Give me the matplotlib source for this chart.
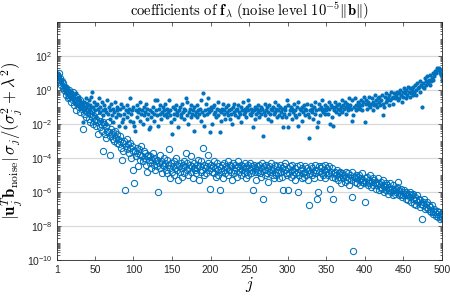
import numpy as np
import matplotlib
matplotlib.use("Agg")
import matplotlib.pyplot as plt
from matplotlib.ticker import LogLocator, NullFormatter, FixedLocator

plt.rcParams['mathtext.fontset'] = 'cm'
plt.rcParams['font.family'] = ['Liberation Sans', 'DejaVu Sans']

# log10 of the filled-dot coefficients, j = 1..500
dots_log = [
    0.9, 1.0, 0.8, 0.7, 0.6, 0.4, 0.5, 0.2, 0.3, 0.0,
    0.1, -0.2, 0.2, -0.1, -0.3, 0.0, -0.4, -0.2, -0.5, -0.1,
    -0.6, -0.3, -0.4, -0.8, -0.2, -0.7, -0.5, -0.9, -0.4, -1.0,
    -0.6, -0.8, -1.1, -1.9, -0.9, -0.7, -1.2, -0.5, -1.0, -0.8,
    -1.3, -0.6, -1.1, -0.9, -0.4, -0.1, -1.0, -1.4, -0.7, -1.2,
    -0.9, -1.6, -0.8, -1.1, -0.5, -1.3, -1.0, -1.8, -0.7, -1.2,
    -1.5, -0.9, -1.1, -2.0, -1.3, -0.6, -1.4, -1.0, -1.7, -1.2,
    -0.8, -1.5, -1.1, -1.9, -1.3, -0.7, -1.6, -1.2, -1.0, -1.4,
    -2.1, -1.1, -1.5, -0.8, -1.9, -1.7, -1.0, -1.4, -2.2, -1.2,
    -0.9, -1.6, -1.3, -1.1, -1.8, -0.5, -1.4, -1.2, -1.9, -1.0,
    -2.1, -2.4, -1.2, -0.9, -1.6, -1.3, -1.1, -1.8, -0.7, -1.4,
    -1.2, -2.0, -1.0, -1.5, -1.3, -0.8, -1.7, -1.1, -1.4, -2.3,
    -1.2, -2.2, -1.6, -1.3, -1.0, -1.8, -1.4, -0.6, -1.2, -0.6,
    -1.5, -2.1, -1.1, -1.4, -0.9, -1.7, -1.3, -1.0, -1.2, -1.5,
    -0.8, -1.4, -1.1, -1.6, -1.3, -0.6, -1.5, -1.2, -1.9, -2.6,
    -1.0, -1.4, -1.7, -1.1, -0.9, -1.5, -1.3, -2.2, -1.2, -1.0,
    -1.6, -1.4, -0.8, -1.3, -1.1, -1.7, -1.2, -0.5, -1.5, -0.7,
    -2.0, -1.3, -1.1, -1.6, -0.9, -1.4, -1.2, -2.4, -1.0, -1.5,
    -1.3, -0.9, -1.6, -1.2, -1.4, -1.1, -1.8, -0.6, -1.3, -0.2,
    -1.5, -2.1, -1.2, -0.8, -1.4, -1.1, -0.5, -1.3, -2.5, -1.0,
    -1.2, -2.0, -1.0, -1.4, -0.9, -1.3, -1.6, -1.1, -0.7, -1.5,
    -1.2, -2.5, -1.8, -1.3, -1.1, -0.8, -1.4, -1.2, -1.7, -1.0,
    -1.3, -1.5, -0.9, -1.2, -1.7, -1.1, -1.4, -2.0, -1.0, -1.3,
    -0.8, -1.5, -1.2, -1.1, -1.6, -0.9, -1.3, -1.4, -1.0, -1.9,
    -1.2, -0.7, -1.4, -1.1, -1.3, -1.6, -1.0, -1.2, -0.6, -0.9,
    -1.4, -1.1, -1.5, -1.3, -2.2, -1.2, -1.7, -1.0, -1.4, -1.1,
    -1.3, -0.9, -1.6, -1.2, -1.0, -1.4, -1.1, -2.7, -1.3, -0.8,
    -1.5, -1.2, -1.0, -1.7, -1.3, -0.9, -1.4, -1.1, -1.8, -1.2,
    -1.0, -1.4, -0.7, -1.3, -1.1, -1.6, -1.2, -0.9, -1.5, -1.0,
    -1.3, -1.6, -1.1, -2.2, -1.4, -1.2, -1.0, -1.6, -0.6, -2.2,
    -0.9, -1.4, -1.2, -1.0, -1.7, -1.1, -1.3, -0.8, -1.5, -1.2,
    -1.6, -1.0, -2.1, -0.7, -1.4, -1.1, -1.2, -1.8, -1.0, -1.3,
    -0.9, -1.5, -1.1, -1.2, -0.8, -1.4, -2.8, -1.6, -1.2, -0.9,
    -1.3, -1.1, -1.7, -1.0, -0.7, -1.4, -1.2, -2.2, -1.9, -1.1,
    -0.8, -1.5, -1.0, -1.2, -0.6, -1.3, -1.1, -0.9, -1.4, -1.2,
    -1.0, -1.4, -0.7, -1.1, -2.0, -0.9, -1.6, -1.0, -2.1, -1.2,
    -1.0, -0.7, -1.3, -0.9, -1.1, -1.4, -0.8, -1.2, -1.0, -0.6,
    -1.3, -0.9, -1.1, -0.7, -1.4, -1.0, -0.8, -1.2, -0.5, -1.0,
    -0.9, -1.1, -0.6, -1.8, -1.5, -1.0, -0.5, -1.2, -0.9, -1.1,
    -0.7, -1.0, -0.8, -1.1, -0.6, -0.9, -1.2, -0.7, -0.4, -1.9,
    -0.8, -0.6, -1.1, -0.7, -0.9, -0.4, -1.0, -0.8, -0.5, -1.2,
    -0.7, -0.9, -0.3, -0.8, -0.6, -1.0, -0.5, -0.7, -0.4, -0.9,
    -0.6, -0.3, -0.8, -1.5, -1.0, -0.4, -0.7, -0.2, -0.6, -0.5,
    -0.9, -0.3, -0.6, -0.1, -0.5, -0.4, -0.8, -0.2, -0.5, -0.3,
    -0.4, -0.1, -0.6, -0.2, -0.5, 0.0, -0.3, -0.7, -0.1, -0.4,
    0.1, -0.2, -0.5, 0.0, -0.3, 0.2, -0.1, -0.4, 0.1, -0.2,
    0.0, -0.3, 0.2, -0.1, 0.3, 0.0, -0.3, 0.4, 0.1, 0.2,
    0.5, -0.1, 0.3, -1.0, 0.2, 0.4, 0.1, 0.7, 0.3, 0.5,
    0.8, 0.4, 0.6, 0.3, 0.9, 0.5, 0.7, 1.0, 0.6, 0.8,
    1.1, 1.0, 1.2, 1.3, 1.2, 1.3, 1.2, 1.0, 0.9, 0.6,
]

# log10 of the open-circle coefficients, j = 1..500
circles_log = [
    0.9, 0.8, 1.0, 0.6, 0.7, 0.3, 0.5, 0.1, 0.4, 0.0,
    0.2, -0.3, 0.1, -0.1, -0.5, 0.0, -0.4, -0.2, -0.7, -0.3,
    -0.6, -0.1, -0.9, -0.5, -0.7, -1.2, -0.4, -0.8, -1.0, -0.6,
    -1.3, -0.9, -1.1, -2.3, -0.8, -1.4, -1.2, -0.9, -1.6, -1.3,
    -1.1, -1.7, -1.4, -1.9, -1.2, -1.6, -2.0, -1.5, -1.8, -1.3,
    -2.1, -1.7, -1.9, -2.6, -1.6, -2.2, -1.8, -2.0, -2.4, -1.9,
    -3.6, -2.0, -2.6, -2.1, -2.8, -2.4, -1.9, -2.5, -2.7, -3.8,
    -2.3, -2.6, -2.9, -2.5, -3.0, -2.4, -2.8, -3.1, -2.6, -2.9,
    -3.2, -2.7, -3.0, -3.4, -4.1, -3.1, -3.6, -3.0, -5.9, -3.3,
    -2.9, -3.5, -3.2, -3.7, -3.1, -3.4, -4.0, -3.3, -3.6, -4.7,
    -5.5, -3.6, -3.9, -3.4, -3.7, -4.5, -3.5, -4.1, -3.8, -3.3,
    -3.9, -4.2, -3.6, -4.0, -3.7, -4.4, -3.9, -4.8, -3.8, -4.1,
    -4.3, -3.9, -4.6, -4.1, -3.7, -4.4, -4.0, -4.7, -4.2, -4.5,
    -4.1, -6.0, -4.3, -3.8, -4.6, -4.2, -4.9, -4.4, -4.0, -4.5,
    -4.3, -4.7, -4.1, -4.9, -4.4, -3.5, -4.6, -5.2, -4.3, -4.8,
    -4.5, -4.2, -5.0, -4.6, -4.0, -4.7, -4.4, -5.3, -4.5, -4.8,
    -4.3, -4.6, -5.1, -4.4, -4.2, -4.9, -4.5, -3.7, -4.7, -4.3,
    -5.0, -4.6, -4.4, -4.8, -3.9, -4.5, -5.2, -4.6, -4.3, -4.7,
    -4.9, -4.4, -4.6, -4.1, -5.3, -4.5, -4.8, -4.2, -4.7, -3.4,
    -4.4, -5.0, -4.6, -4.9, -4.5, -3.8, -4.3, -4.7, -5.8, -4.6,
    -4.4, -4.8, -4.5, -4.2, -4.9, -4.6, -5.1, -4.3, -4.7, -5.0,
    -4.5, -5.9, -4.8, -4.6, -4.4, -5.2, -4.7, -4.3, -4.9, -4.5,
    -4.6, -4.2, -5.0, -4.7, -4.4, -4.8, -4.5, -5.3, -4.3, -4.7,
    -4.9, -4.4, -4.6, -5.1, -4.5, -4.2, -4.8, -4.6, -5.0, -4.4,
    -4.7, -4.5, -4.9, -4.3, -4.6, -5.2, -4.8, -4.4, -5.0, -4.6,
    -4.3, -4.9, -4.7, -4.5, -5.9, -4.4, -4.8, -4.6, -5.3, -4.5,
    -4.8, -4.7, -4.4, -4.9, -4.6, -5.1, -4.3, -6.4, -4.5, -5.0,
    -4.7, -4.4, -4.9, -4.6, -5.4, -4.5, -4.8, -4.3, -4.7, -5.0,
    -4.6, -5.2, -4.4, -4.8, -5.0, -4.5, -4.9, -4.7, -5.2, -4.4,
    -4.8, -4.6, -5.1, -5.9, -4.5, -4.7, -4.3, -4.9, -5.0, -5.9,
    -4.6, -4.9, -4.5, -5.1, -4.7, -4.4, -5.0, -4.8, -5.3, -4.6,
    -4.9, -4.5, -6.0, -4.8, -5.0, -4.4, -4.7, -5.2, -4.6, -4.9,
    -5.1, -4.5, -4.8, -5.0, -4.6, -5.3, -6.8, -4.7, -4.9, -4.5,
    -5.0, -4.6, -4.8, -5.2, -4.4, -4.9, -4.7, -6.4, -6.0, -4.5,
    -4.8, -5.1, -4.6, -4.9, -4.5, -5.0, -4.7, -4.4, -5.2, -4.8,
    -4.6, -5.0, -4.9, -4.5, -5.8, -4.8, -5.1, -4.6, -6.4, -4.9,
    -5.2, -4.8, -5.0, -4.7, -5.3, -4.9, -5.1, -4.8, -5.5, -5.0,
    -4.9, -5.2, -5.0, -5.4, -4.8, -5.1, -5.3, -4.9, -5.6, -5.2,
    -5.0, -5.3, -4.8, -6.3, -9.5, -5.1, -5.4, -5.0, -5.2, -5.5,
    -5.1, -5.3, -5.0, -5.6, -5.2, -5.4, -4.9, -5.3, -5.5, -6.6,
    -5.2, -5.4, -5.1, -5.6, -5.3, -5.5, -5.0, -5.7, -5.4, -5.2,
    -5.6, -5.3, -5.5, -5.8, -5.4, -5.6, -5.2, -5.9, -5.5, -5.7,
    -5.4, -5.8, -5.6, -5.3, -6.0, -5.7, -5.5, -5.9, -5.6, -6.1,
    -5.7, -5.9, -5.5, -6.0, -5.8, -6.2, -5.6, -5.9, -6.1, -5.8,
    -6.0, -5.7, -5.4, -6.2, -5.9, -6.1, -5.8, -6.3, -6.0, -6.2,
    -5.9, -6.1, -6.4, -6.0, -6.2, -6.5, -6.1, -6.3, -6.0, -6.6,
    -6.2, -6.4, -6.1, -6.7, -6.3, -6.5, -6.8, -6.2, -6.6, -6.4,
    -6.9, -6.5, -6.7, -7.6, -6.6, -6.8, -6.4, -7.0, -6.7, -6.9,
    -6.6, -7.0, -6.8, -7.1, -6.9, -7.2, -6.8, -7.1, -7.3, -7.0,
    -7.2, -7.4, -7.1, -7.3, -7.5, -7.2, -7.4, -7.6, -7.3, -7.5,
]

j = np.arange(1, len(dots_log) + 1)
xticks = [1, 50, 100, 150, 200, 250, 300, 350, 400, 450, 500]
yticks = [1e-10, 1e-8, 1e-6, 1e-4, 1e-2, 1e0, 1e2]
blue = '#0072BD'
dark = '#262626'

fig = plt.figure(figsize=(4.5, 2.97), dpi=100)
ax = fig.add_axes([0.127, 0.125, 0.855, 0.801])

ax.semilogy(j, 10.0 ** np.array(circles_log), 'o', mfc='none', mec=blue,
            ms=4.5, mew=0.75)
ax.semilogy(j, 10.0 ** np.array(dots_log), '.', color=blue, ms=4)

ax.set_xlim(1, 500)
ax.set_ylim(1e-10, 1e4)
ax.set_xticks(xticks)
ax.yaxis.set_major_locator(FixedLocator(yticks))
ax.yaxis.set_minor_locator(LogLocator(base=10, subs=np.arange(1, 10), numticks=100))
ax.yaxis.set_minor_formatter(NullFormatter())
ax.grid(True, axis='y', which='major', color='#d9d9d9', lw=0.9)
ax.set_axisbelow(True)

ax.tick_params(which='both', direction='in', top=True, right=True,
               colors=dark, labelsize=7.5, width=0.5)
ax.tick_params(which='major', length=3)
ax.tick_params(which='minor', length=1.8)
for s in ax.spines.values():
    s.set_color(dark)
    s.set_linewidth(0.6)

ax.set_title(r'$\mathrm{coefficients\ of\ }\mathbf{f}_\lambda\ \mathrm{(noise\ level\ }10^{-5}\|\mathbf{b}\|\mathrm{)}$',
             fontsize=10.5, pad=4)
ax.set_ylabel(r'$|\mathbf{u}_j^T\mathbf{b}_{\mathrm{noise}}|\,\sigma_j/(\sigma_j^2+\lambda^2)$',
              fontsize=12, labelpad=2)
ax.set_xlabel(r'$j$', fontsize=12, labelpad=0)

fig.savefig('out.png', dpi=100)
